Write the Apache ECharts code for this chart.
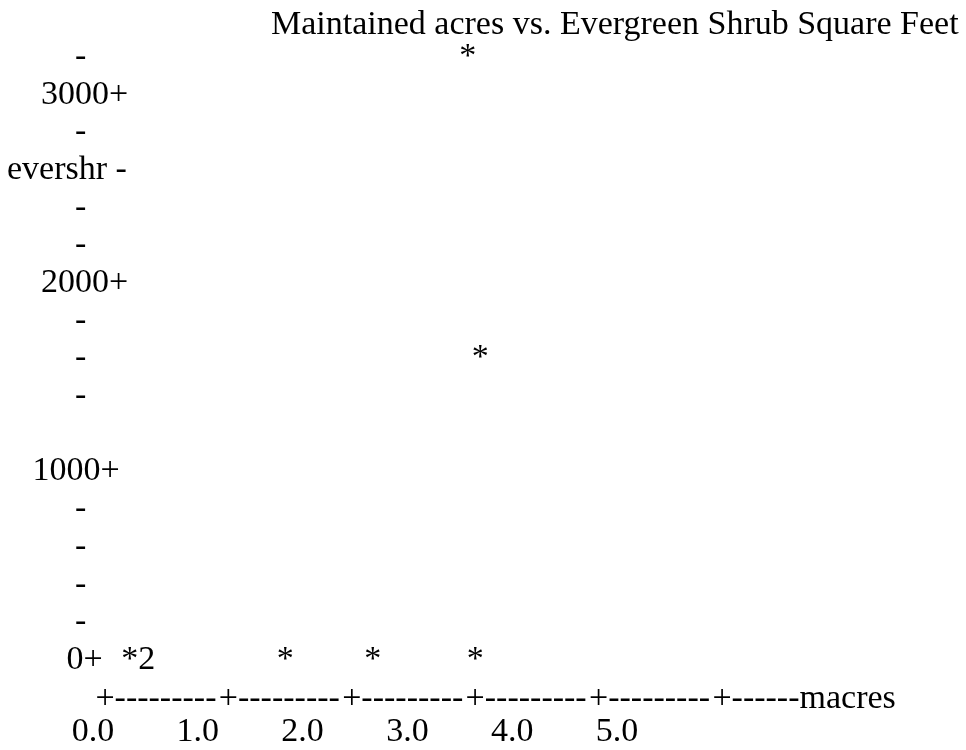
<!DOCTYPE html>
<html>
<head>
<meta charset="utf-8">
<title>Maintained acres vs. Evergreen Shrub Square Feet</title>
<script src="https://cdn.jsdelivr.net/npm/echarts@6.0.0/dist/echarts.min.js"></script>
<style>
  html, body { margin: 0; padding: 0; background: #fff; }
  #eChart { width: 966px; height: 750px; }
</style>
</head>
<body>
<div id="eChart"></div>
<script>
// data (x = macres, y = evershr)
const macres  = [0.2, 0.2, 1.46, 2.17, 3.0, 2.94, 3.04];
const evershr = [0,   0,   0,    0,    0,   3200, 1600];

// axis ticks and their labels
const xTicks      = [0, 1, 2, 3, 4, 5];
const xTickLabels = ['0.0', '1.0', '2.0', '3.0', '4.0', '5.0'];
const xName = 'macres';
const yTicks = [0, 200, 400, 600, 800, 1000, 1200, 1400, 1600, 1800,
                2000, 2200, 2400, 2600, 2800, 3000, 3200];
const yTickLabels = ['0+', '-', '-', '-', '-', '1000+', '', '-', '-', '-',
                     '2000+', '-', '-', 'evershr -', '-', '3000+', '-'];
const title = 'Maintained acres vs. Evergreen Shrub Square Feet';

const FONT = 'Liberation Serif';
const FS = 34;

// leading blanks the way the typed listing indents each row
function indent(lbl) {
  if (lbl === '-') return 8;
  if (lbl === '0+') return 7;
  if (lbl === '1000+') return 3;
  if (lbl.indexOf('evershr') === 0) return 0;
  return 4;
}

// identical points are printed once with a count after the star
let counts = {};
macres.forEach(function (x, i) {
  let k = x + ',' + evershr[i];
  counts[k] = (counts[k] || 0) + 1;
});
let pts = [];
Object.keys(counts).forEach(function (k) {
  let p = k.split(',').map(Number);
  let item = { value: p };
  if (counts[k] > 1) {
    item.label = { formatter: '*' + counts[k], align: 'left', offset: [-FS / 4, 0] };
  }
  pts.push(item);
});

let myChart = echarts.init(document.getElementById('eChart'));
let option = {
  animation: false,
  backgroundColor: '#fff',
  textStyle: { fontFamily: FONT, color: '#000' },
  title: {
    text: title,
    left: 271,
    top: 8,
    padding: 0,
    textStyle: { fontFamily: FONT, fontSize: FS, fontWeight: 'normal', color: '#000' }
  },
  grid: [
    { left: 105, right: 244, top: 57, bottom: 90, outerBoundsMode: 'none' },
    { left: 93, right: 349, top: 57, bottom: 90, outerBoundsMode: 'none' }
  ],
  xAxis: [
    {
      type: 'value', gridIndex: 0,
      min: xTicks[0], max: xTicks[xTicks.length - 1], interval: 1,
      axisLine: { show: false }, axisTick: { show: false }, splitLine: { show: false },
      axisLabel: {
        showMinLabel: true, showMaxLabel: true,
        margin: 22, align: 'left', padding: [0, 0, 0, -9.6],
        fontFamily: FONT, fontSize: FS, color: '#000',
        formatter: function (v) {
          return v < xTicks[xTicks.length - 1] ? '+' + '-'.repeat(9) : '+' + '-'.repeat(6) + xName;
        }
      }
    },
    {
      type: 'value', gridIndex: 1,
      min: xTicks[0], max: xTicks[xTicks.length - 1], interval: 1,
      axisLine: { show: false }, axisTick: { show: false }, splitLine: { show: false },
      axisLabel: {
        showMinLabel: true, showMaxLabel: true,
        margin: 55, fontFamily: FONT, fontSize: FS, color: '#000',
        formatter: function (v) { return xTickLabels[xTicks.indexOf(v)]; }
      }
    }
  ],
  yAxis: [
    {
      type: 'value', gridIndex: 0,
      min: yTicks[0], max: yTicks[yTicks.length - 1], interval: 200,
      axisLine: { show: false }, axisTick: { show: false }, splitLine: { show: false },
      axisLabel: {
        showMinLabel: true, showMaxLabel: true,
        margin: 98, align: 'left',
        fontFamily: FONT, fontSize: FS, color: '#000',
        formatter: function (v) {
          let lbl = yTickLabels[yTicks.indexOf(v)] || '';
          return lbl ? ' '.repeat(indent(lbl)) + lbl : '';
        }
      }
    },
    { type: 'value', gridIndex: 1, min: 0, max: 1, show: false }
  ],
  series: [
    {
      name: 'evershr',
      type: 'scatter',
      xAxisIndex: 0, yAxisIndex: 0,
      symbol: 'circle',
      symbolSize: 0,
      silent: true,
      itemStyle: { color: '#000', opacity: 1 },
      label: {
        show: true,
        position: 'inside',
        formatter: '*',
        fontFamily: FONT, fontSize: FS, color: '#000',
        opacity: 1,
        textBorderWidth: 0
      },
      emphasis: { disabled: true },
      data: pts
    }
  ]
};
myChart.setOption(option);
</script>
</body>
</html>
